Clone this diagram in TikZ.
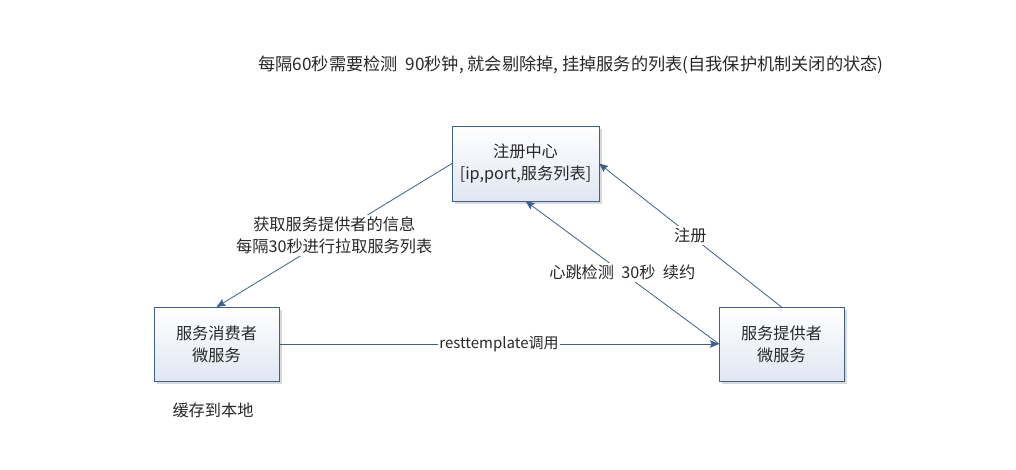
\documentclass[tikz,border=0pt]{standalone}
\usepackage{fontspec}
\setmainfont{Noto Sans CJK SC}
\usetikzlibrary{arrows.meta}
\usetikzlibrary{shadows}
\definecolor{boxblue}{RGB}{64,96,140}
\definecolor{boxbottom}{RGB}{224,231,242}
\definecolor{txt}{RGB}{40,40,40}
\tikzset{
    svcbox/.style={
        draw=boxblue,
        line width=0.8pt,
        outer sep=0pt,
        minimum width=125pt,
        minimum height=74pt,
        top color=white,
        bottom color=boxbottom,
        drop shadow={shadow xshift=3pt,shadow yshift=-3pt,fill=black!15,opacity=1},
        align=center,
        text=txt,
        font=\fontsize{16.2}{22}\selectfont
    },
    % 连线样式
    bluearrow/.style={
        line width=0.8pt,
        boxblue,
        -{Stealth[length=9pt,width=7.5pt,inset=1.5pt]}
    },
    linelabel/.style={
        fill=white,
        inner sep=2pt,
        align=center,
        text=txt,
        font=\fontsize{16.2}{22}\selectfont
    }
}

\begin{document}
\begin{tikzpicture}[x=1pt,y=-1pt]
    \useasboundingbox[fill=white] (0,0) rectangle (1016,470);

    \node[svcbox,minimum width=147pt,minimum height=75pt] (center) at (525.5,163.5)
        {注册中心\\{[ip,port,服务列表]}};
    \node[svcbox] (consumer) at (216.5,344) {服务消费者\\微服务};
    \node[svcbox] (provider) at (781.5,344) {服务提供者\\微服务};

    \draw[bluearrow] (center.west) -- node[linelabel] {获取服务提供者的信息\\每隔30秒进行拉取服务列表} (consumer.north);
    \draw[bluearrow] (consumer.east) -- node[linelabel,inner sep=1pt,font=\fontsize{15}{22}\selectfont] {resttemplate调用} (provider.west);
    \draw[bluearrow] (provider.west) -- node[linelabel] {心跳检测\ \ 30秒\ \ 续约} (center.south);
    \draw[bluearrow] (provider.north) -- node[linelabel] {注册} (center.east);

    \node[linelabel,font=\fontsize{17.2}{22}\selectfont] (note) at (571,65) {每隔60秒需要检测\ \ 90秒钟, 就会剔除掉, 挂掉服务的列表(自我保护机制关闭的状态)};
    \node[linelabel] (cache) at (213,410) {缓存到本地};
\end{tikzpicture}
\end{document}
